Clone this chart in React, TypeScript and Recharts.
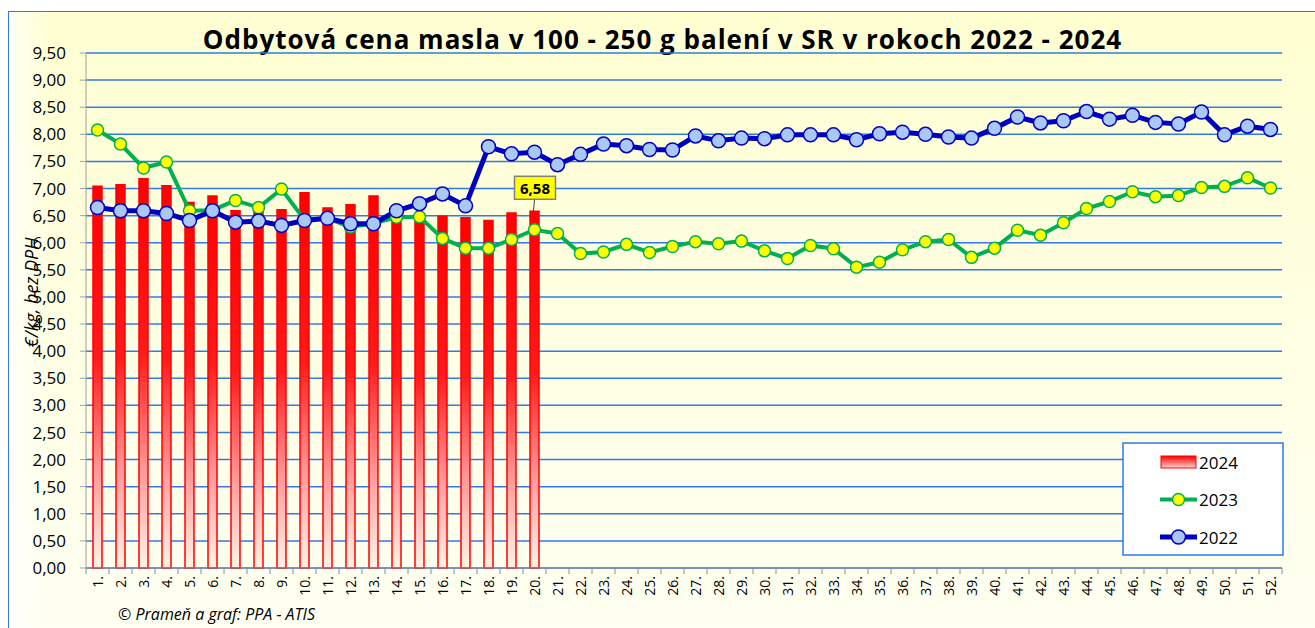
import React from 'react';
import { ComposedChart, Bar, Line, XAxis, YAxis, CartesianGrid, LabelList } from 'recharts';

const weeks = [
  '1.', '2.', '3.', '4.', '5.', '6.', '7.', '8.', '9.', '10.', '11.', '12.', '13.',
  '14.', '15.', '16.', '17.', '18.', '19.', '20.', '21.', '22.', '23.', '24.', '25.', '26.',
  '27.', '28.', '29.', '30.', '31.', '32.', '33.', '34.', '35.', '36.', '37.', '38.', '39.',
  '40.', '41.', '42.', '43.', '44.', '45.', '46.', '47.', '48.', '49.', '50.', '51.', '52.',
];

const prices2024 = [
  7.04, 7.07, 7.18, 7.05, 6.74, 6.86, 6.59, 6.57, 6.61, 6.92,
  6.64, 6.70, 6.86, 6.50, 6.48, 6.49, 6.46, 6.41, 6.55, 6.58,
];

const prices2023 = [
  8.08, 7.82, 7.38, 7.49, 6.59, 6.60, 6.78, 6.65, 6.99, 6.42,
  6.45, 6.29, 6.36, 6.47, 6.48, 6.08, 5.90, 5.90, 6.06, 6.24,
  6.17, 5.80, 5.83, 5.97, 5.82, 5.93, 6.02, 5.98, 6.03, 5.85,
  5.71, 5.95, 5.89, 5.55, 5.64, 5.87, 6.02, 6.06, 5.73, 5.90,
  6.23, 6.14, 6.37, 6.63, 6.76, 6.94, 6.85, 6.87, 7.02, 7.04,
  7.20, 7.01,
];

const prices2022 = [
  6.65, 6.59, 6.59, 6.54, 6.41, 6.59, 6.38, 6.40, 6.32, 6.41,
  6.45, 6.35, 6.35, 6.59, 6.72, 6.90, 6.68, 7.77, 7.64, 7.67,
  7.44, 7.63, 7.82, 7.79, 7.72, 7.71, 7.97, 7.88, 7.93, 7.92,
  7.99, 7.99, 7.99, 7.90, 8.01, 8.04, 8.00, 7.95, 7.93, 8.11,
  8.32, 8.21, 8.25, 8.42, 8.28, 8.35, 8.22, 8.19, 8.41, 7.99,
  8.15, 8.09,
];

const yTicks = [0, 0.5, 1, 1.5, 2, 2.5, 3, 3.5, 4, 4.5, 5, 5.5, 6, 6.5, 7, 7.5, 8, 8.5, 9, 9.5];

const data = weeks.map((w, i) => ({
  week: w,
  y2024: i < prices2024.length ? prices2024[i] : null,
  y2023: prices2023[i],
  y2022: prices2022[i],
}));

const FONT = '"Open Sans", sans-serif';
const fmt = (v: number) => v.toFixed(2).replace('.', ',');

const XTick = (props: any) => {
  const { x, y, payload, index } = props;
  const half = 11.5;
  const axisY = y - 8;
  return (
    <g>
      <line x1={x - half} x2={x - half} y1={axisY} y2={axisY + 6} stroke="#8c8c8c" />
      {index === weeks.length - 1 && (
        <line x1={x + half} x2={x + half} y1={axisY} y2={axisY + 6} stroke="#8c8c8c" />
      )}
      <text
        x={x}
        y={y}
        transform={`rotate(-90 ${x} ${y})`}
        textAnchor="end"
        dy="0.36em"
        fontSize={14}
        fontFamily={FONT}
        fill="#000"
      >
        {payload.value}
      </text>
    </g>
  );
};

const YTitle = (props: any) => {
  const vb = props.viewBox || {};
  const cx = 23;
  const cy = vb.y + vb.height / 2 - 18;
  return (
    <text
      x={cx}
      y={cy}
      transform={`rotate(-90 ${cx} ${cy})`}
      textAnchor="middle"
      dominantBaseline="central"
      fontSize={18}
      fontStyle="italic"
      fontFamily={FONT}
      fill="#000"
    >
      €/kg, bez DPH
    </text>
  );
};

const LastLabel = (props: any) => {
  const { x, y, width, value, index } = props;
  if (index !== prices2024.length - 1) return null;
  const cx = x + width / 2;
  return (
    <g>
      <line x1={cx} y1={y - 12} x2={cx - 1} y2={y} stroke="#404040" />
      <rect x={cx - 20} y={y - 35} width={41} height={23} fill="#ffff00" stroke="#808080" strokeWidth={1.5} />
      <text x={cx + 0.5} y={y - 23} textAnchor="middle" dominantBaseline="central" fontSize={15} fontWeight="bold" fontFamily={FONT} fill="#000">
        {fmt(value)}
      </text>
    </g>
  );
};

const legendRows = [
  { name: '2024', kind: 'bar', stroke: '#ff0000', fill: '', w: 0, r: 0 },
  { name: '2023', kind: 'line', stroke: '#00b050', fill: '#ffff00', w: 4, r: 6 },
  { name: '2022', kind: 'line', stroke: '#0000c0', fill: '#a9c8f8', w: 5, r: 7 },
];

const LegendBox = () => (
  <svg width={162} height={114} style={{ display: 'block' }}>
    <defs>
      <linearGradient id="legGrad" x1="0" y1="0" x2="0" y2="1">
        <stop offset="0%" stopColor="#ff0000" />
        <stop offset="100%" stopColor="#ffd0d0" />
      </linearGradient>
    </defs>
    <rect x={1} y={1} width={160} height={112} fill="#ffffff" stroke="#2b7bef" strokeWidth={1.5} />
    {legendRows.map((r, i) => {
      const cy = 20 + i * 37.5;
      return (
        <g key={r.name}>
          {r.kind === 'bar' ? (
            <rect x={39} y={cy - 6} width={35} height={12} fill="url(#legGrad)" stroke="#ff0000" />
          ) : (
            <g>
              <line x1={38} x2={75} y1={cy} y2={cy} stroke={r.stroke} strokeWidth={r.w} />
              <circle cx={56.5} cy={cy} r={r.r} fill={r.fill} stroke={r.stroke} strokeWidth={1.5} />
            </g>
          )}
          <text x={77} y={cy} dominantBaseline="central" fontSize={17} fontFamily={FONT} fill="#000">
            {r.name}
          </text>
        </g>
      );
    })}
  </svg>
);

export default function App() {
  return (
    <div
      style={{
        position: 'absolute',
        left: 8,
        top: 11,
        width: 1307,
        height: 617,
        overflow: 'hidden',
        borderLeft: '1.5px solid #2b7bef',
        borderTop: '1.5px solid #2b7bef',
        boxSizing: 'border-box',
        background:
          'linear-gradient(to right, rgba(255,255,255,0.8) 0px, rgba(255,255,255,0) 40px), linear-gradient(to bottom, #ffffd2 0%, #ffffe6 60%, #fffff2 100%)',
        fontFamily: FONT,
      }}
    >
      <div
        style={{
          position: 'absolute',
          left: 0,
          top: 9,
          width: 1307,
          textAlign: 'center',
          fontSize: 26,
          letterSpacing: 1,
          fontWeight: 'bold',
          color: '#000',
          whiteSpace: 'nowrap',
        }}
      >
        Odbytová cena masla v 100 - 250 g balení v SR v rokoch 2022 - 2024
      </div>
      <div
        style={{
          position: 'absolute',
          left: 109,
          top: 591,
          fontSize: 16,
          fontStyle: 'italic',
          color: '#000',
          whiteSpace: 'nowrap',
        }}
      >
        © Prameň a graf: PPA - ATIS
      </div>
      <ComposedChart
        width={1307}
        height={617}
        data={data}
        margin={{ top: 42, right: 33, bottom: 0, left: 0 }}
        barCategoryGap={0}
        style={{ position: 'absolute', left: -1.5, top: -1.5 }}
      >
        <defs>
          <linearGradient id="barGrad" x1="0" y1="0" x2="0" y2="1">
            <stop offset="0%" stopColor="#ff0000" />
            <stop offset="45%" stopColor="#ff1a1a" />
            <stop offset="75%" stopColor="#ff9a9a" />
            <stop offset="100%" stopColor="#fff4e6" />
          </linearGradient>
        </defs>
        <CartesianGrid vertical={false} stroke="#2f7ae8" strokeWidth={1.5} />
        <XAxis
          dataKey="week"
          interval={0}
          height={60}
          tickLine={false}
          tickSize={6}
          tickMargin={2}
          stroke="#8c8c8c"
          tick={<XTick />}
        />
        <YAxis
          width={78}
          domain={[0, 9.5]}
          ticks={yTicks}
          interval={0}
          tickFormatter={fmt}
          tickSize={6}
          tickMargin={14}
          stroke="#a0a0a0"
          tick={{ fill: '#000', fontSize: 17, fontFamily: FONT }}
          label={{ content: <YTitle /> }}
        />
        <Bar
          dataKey="y2024"
          name="2024"
          barSize={9}
          fill="url(#barGrad)"
          stroke="#ff0000"
          strokeWidth={1.5}
          isAnimationActive={false}
        >
          <LabelList dataKey="y2024" content={<LastLabel />} />
        </Bar>
        <Line
          dataKey="y2023"
          name="2023"
          stroke="#00b050"
          strokeWidth={4}
          dot={{ r: 6, fill: '#ffff00', stroke: '#00b050', strokeWidth: 1.5 }}
          activeDot={false}
          isAnimationActive={false}
        />
        <Line
          dataKey="y2022"
          name="2022"
          stroke="#0000c0"
          strokeWidth={5}
          dot={{ r: 7, fill: '#a9c8f8', stroke: '#0000c0', strokeWidth: 1.5 }}
          activeDot={false}
          isAnimationActive={false}
        />
      </ComposedChart>
      <div style={{ position: 'absolute', left: 1113, top: 430 }}>
        <LegendBox />
      </div>
    </div>
  );
}
